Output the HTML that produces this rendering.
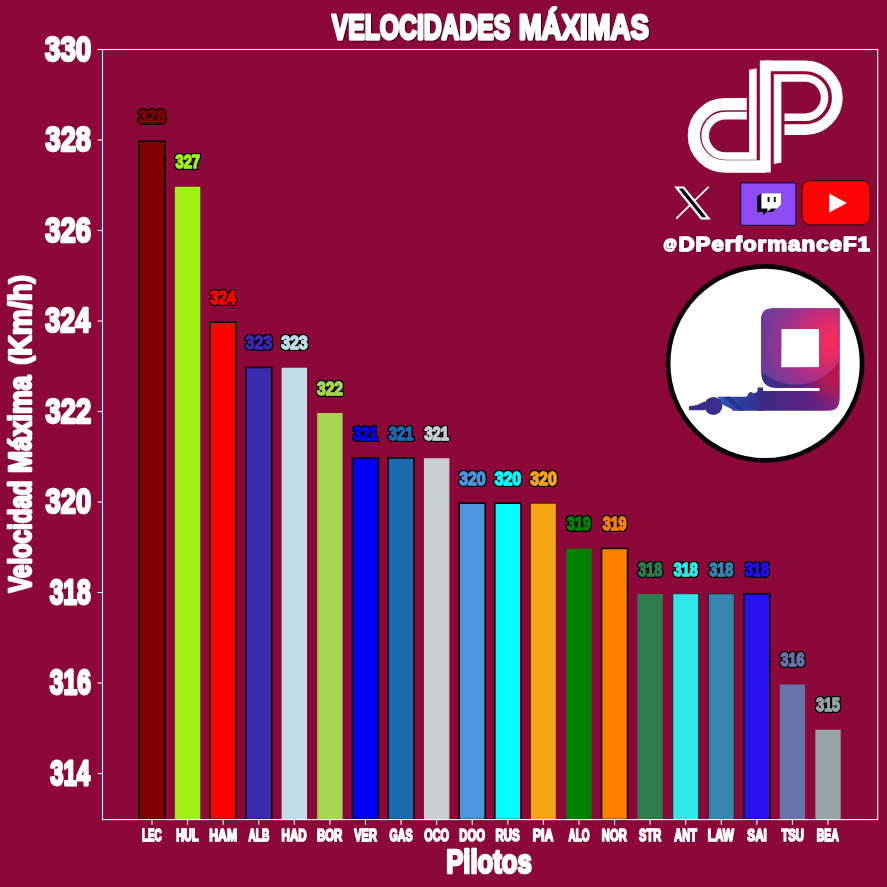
<!DOCTYPE html>
<html lang="es"><head><meta charset="utf-8"><title>Velocidades Máximas</title>
<style>html,body{margin:0;padding:0;background:#8b0838;}body{width:887px;height:887px;overflow:hidden;}svg{display:block;}text{font-family:'Liberation Sans', sans-serif;font-weight:bold;stroke-linejoin:round;vector-effect:non-scaling-stroke;}</style></head><body>
<svg width="887" height="887" viewBox="0 0 887 887">
<defs>
<filter id="ol" x="-5%" y="-5%" width="110%" height="110%" filterUnits="objectBoundingBox">
<feOffset in="SourceAlpha" dx="-1" dy="0" result="o0"/>
<feOffset in="SourceAlpha" dx="1" dy="0" result="o1"/>
<feOffset in="SourceAlpha" dx="0" dy="-1" result="o2"/>
<feOffset in="SourceAlpha" dx="0" dy="1" result="o3"/>
<feOffset in="SourceAlpha" dx="-0.8" dy="-0.8" result="o4"/>
<feOffset in="SourceAlpha" dx="0.8" dy="-0.8" result="o5"/>
<feOffset in="SourceAlpha" dx="-0.8" dy="0.8" result="o6"/>
<feOffset in="SourceAlpha" dx="0.8" dy="0.8" result="o7"/>
<feMerge result="m"><feMergeNode in="o0"/><feMergeNode in="o1"/><feMergeNode in="o2"/><feMergeNode in="o3"/><feMergeNode in="o4"/><feMergeNode in="o5"/><feMergeNode in="o6"/><feMergeNode in="o7"/></feMerge>
<feColorMatrix in="m" type="matrix" values="0 0 0 0 0  0 0 0 0 0  0 0 0 0 0  0 0 0 1.6 0" result="blk"/>
<feMerge><feMergeNode in="blk"/><feMergeNode in="SourceGraphic"/></feMerge>
</filter>
<filter id="ol2" x="-5%" y="-20%" width="110%" height="140%">
<feOffset in="SourceAlpha" dx="-0.8" dy="0.0" result="o0"/>
<feOffset in="SourceAlpha" dx="0.8" dy="0.0" result="o1"/>
<feOffset in="SourceAlpha" dx="0.0" dy="-0.8" result="o2"/>
<feOffset in="SourceAlpha" dx="0.0" dy="0.8" result="o3"/>
<feOffset in="SourceAlpha" dx="-0.6400000000000001" dy="-0.6400000000000001" result="o4"/>
<feOffset in="SourceAlpha" dx="0.6400000000000001" dy="-0.6400000000000001" result="o5"/>
<feOffset in="SourceAlpha" dx="-0.6400000000000001" dy="0.6400000000000001" result="o6"/>
<feOffset in="SourceAlpha" dx="0.6400000000000001" dy="0.6400000000000001" result="o7"/>
<feMerge result="m"><feMergeNode in="o0"/><feMergeNode in="o1"/><feMergeNode in="o2"/><feMergeNode in="o3"/><feMergeNode in="o4"/><feMergeNode in="o5"/><feMergeNode in="o6"/><feMergeNode in="o7"/></feMerge>
<feColorMatrix in="m" type="matrix" values="0 0 0 0 0.18  0 0 0 0 0  0 0 0 0 0.06  0 0 0 0.75 0" result="blk"/>
<feMerge><feMergeNode in="blk"/><feMergeNode in="SourceGraphic"/></feMerge>
</filter>
<filter id="sh" x="-5%" y="-20%" width="110%" height="140%">
<feOffset in="SourceAlpha" dx="1.1" dy="0.8" result="s"/>
<feColorMatrix in="s" type="matrix" values="0 0 0 0 0  0 0 0 0 0  0 0 0 0 0  0 0 0 0.7 0" result="sb"/>
<feMerge><feMergeNode in="sb"/><feMergeNode in="SourceGraphic"/></feMerge>
</filter>
</defs>
<rect width="887" height="887" fill="#8b0838"/>
<g id="bars">
<rect x="139.00" y="141.20" width="26.00" height="678.40" fill="#800000" stroke="#0c0006" stroke-width="1.6"/>
<rect x="174.88" y="186.75" width="25.40" height="632.85" fill="#9ff014"/>
<rect x="210.16" y="322.20" width="26.00" height="497.40" fill="#ff0000" stroke="#0c0006" stroke-width="1.6"/>
<rect x="245.74" y="367.45" width="26.00" height="452.15" fill="#3b2aae" stroke="#0c0006" stroke-width="1.6"/>
<rect x="281.62" y="367.75" width="25.40" height="451.85" fill="#c0dde8"/>
<rect x="317.20" y="413.00" width="25.40" height="406.60" fill="#a5d64f"/>
<rect x="352.48" y="457.95" width="26.00" height="361.65" fill="#0000f5" stroke="#0c0006" stroke-width="1.6"/>
<rect x="388.06" y="457.95" width="26.00" height="361.65" fill="#1c6bb0" stroke="#0c0006" stroke-width="1.6"/>
<rect x="423.94" y="458.25" width="25.40" height="361.35" fill="#c8d0d0"/>
<rect x="459.22" y="503.20" width="26.00" height="316.40" fill="#4b96dc" stroke="#0c0006" stroke-width="1.6"/>
<rect x="494.80" y="503.20" width="26.00" height="316.40" fill="#00ffff" stroke="#0c0006" stroke-width="1.6"/>
<rect x="530.53" y="503.30" width="25.70" height="316.30" fill="#f5a614" stroke="#0c0006" stroke-opacity="0.55" stroke-width="1"/>
<rect x="566.26" y="548.75" width="25.40" height="270.85" fill="#008000"/>
<rect x="601.54" y="548.45" width="26.00" height="271.15" fill="#ff8000" stroke="#0c0006" stroke-width="1.6"/>
<rect x="637.42" y="594.00" width="25.40" height="225.60" fill="#2e7d4f"/>
<rect x="672.85" y="593.80" width="25.70" height="225.80" fill="#30e8e8" stroke="#0c0006" stroke-opacity="0.55" stroke-width="1"/>
<rect x="708.43" y="593.80" width="25.70" height="225.80" fill="#3585b0" stroke="#0c0006" stroke-opacity="0.55" stroke-width="1"/>
<rect x="743.86" y="593.70" width="26.00" height="225.90" fill="#2810f0" stroke="#0c0006" stroke-width="1.6"/>
<rect x="779.74" y="684.50" width="25.40" height="135.10" fill="#6674a8"/>
<rect x="815.32" y="729.75" width="25.40" height="89.85" fill="#96a5a5"/>
</g>
<rect x="102.50" y="49.50" width="775.20" height="770.10" fill="none" stroke="#fff" stroke-width="1.1"/>
<g stroke="#fff" stroke-width="1.1">
<line x1="97.60" x2="102.50" y1="773.50" y2="773.50"/>
<line x1="97.60" x2="102.50" y1="683.00" y2="683.00"/>
<line x1="97.60" x2="102.50" y1="592.50" y2="592.50"/>
<line x1="97.60" x2="102.50" y1="502.00" y2="502.00"/>
<line x1="97.60" x2="102.50" y1="411.50" y2="411.50"/>
<line x1="97.60" x2="102.50" y1="321.00" y2="321.00"/>
<line x1="97.60" x2="102.50" y1="230.50" y2="230.50"/>
<line x1="97.60" x2="102.50" y1="140.00" y2="140.00"/>
<line x1="97.60" x2="102.50" y1="49.50" y2="49.50"/>
<line x1="152.00" x2="152.00" y1="819.60" y2="824.80"/>
<line x1="187.58" x2="187.58" y1="819.60" y2="824.80"/>
<line x1="223.16" x2="223.16" y1="819.60" y2="824.80"/>
<line x1="258.74" x2="258.74" y1="819.60" y2="824.80"/>
<line x1="294.32" x2="294.32" y1="819.60" y2="824.80"/>
<line x1="329.90" x2="329.90" y1="819.60" y2="824.80"/>
<line x1="365.48" x2="365.48" y1="819.60" y2="824.80"/>
<line x1="401.06" x2="401.06" y1="819.60" y2="824.80"/>
<line x1="436.64" x2="436.64" y1="819.60" y2="824.80"/>
<line x1="472.22" x2="472.22" y1="819.60" y2="824.80"/>
<line x1="507.80" x2="507.80" y1="819.60" y2="824.80"/>
<line x1="543.38" x2="543.38" y1="819.60" y2="824.80"/>
<line x1="578.96" x2="578.96" y1="819.60" y2="824.80"/>
<line x1="614.54" x2="614.54" y1="819.60" y2="824.80"/>
<line x1="650.12" x2="650.12" y1="819.60" y2="824.80"/>
<line x1="685.70" x2="685.70" y1="819.60" y2="824.80"/>
<line x1="721.28" x2="721.28" y1="819.60" y2="824.80"/>
<line x1="756.86" x2="756.86" y1="819.60" y2="824.80"/>
<line x1="792.44" x2="792.44" y1="819.60" y2="824.80"/>
<line x1="828.02" x2="828.02" y1="819.60" y2="824.80"/>
</g>
<g id="yticks" font-size="34.5" fill="#fff" stroke="#fff" stroke-width="2.4" text-anchor="end">
<text transform="translate(90.13 784.80) scale(0.692 1)">314</text>
<text transform="translate(90.88 694.30) scale(0.716 1)">316</text>
<text transform="translate(90.75 603.80) scale(0.714 1)">318</text>
<text transform="translate(91.10 513.30) scale(0.791 1)">320</text>
<text transform="translate(91.08 422.80) scale(0.790 1)">322</text>
<text transform="translate(90.15 332.30) scale(0.781 1)">324</text>
<text transform="translate(90.97 241.80) scale(0.793 1)">326</text>
<text transform="translate(90.83 151.30) scale(0.786 1)">328</text>
<text transform="translate(91.12 60.80) scale(0.801 1)">330</text>
</g>
<g id="xticks">
<text transform="translate(151.81 841.40) scale(0.609 1)" text-anchor="middle" font-size="16.20" fill="#fff" stroke="#fff" stroke-width="1.50">LEC</text>
<text transform="translate(187.39 841.40) scale(0.668 1)" text-anchor="middle" font-size="16.20" fill="#fff" stroke="#fff" stroke-width="1.50">HUL</text>
<text transform="translate(223.16 841.40) scale(0.754 1)" text-anchor="middle" font-size="16.20" fill="#fff" stroke="#fff" stroke-width="1.50">HAM</text>
<text transform="translate(258.85 841.40) scale(0.625 1)" text-anchor="middle" font-size="16.20" fill="#fff" stroke="#fff" stroke-width="1.50">ALB</text>
<text transform="translate(294.18 841.40) scale(0.717 1)" text-anchor="middle" font-size="16.20" fill="#fff" stroke="#fff" stroke-width="1.50">HAD</text>
<text transform="translate(329.64 841.40) scale(0.708 1)" text-anchor="middle" font-size="16.20" fill="#fff" stroke="#fff" stroke-width="1.50">BOR</text>
<text transform="translate(365.56 841.40) scale(0.684 1)" text-anchor="middle" font-size="16.20" fill="#fff" stroke="#fff" stroke-width="1.50">VER</text>
<text transform="translate(401.05 841.40) scale(0.657 1)" text-anchor="middle" font-size="16.20" fill="#fff" stroke="#fff" stroke-width="1.50">GAS</text>
<text transform="translate(436.64 841.40) scale(0.675 1)" text-anchor="middle" font-size="16.20" fill="#fff" stroke="#fff" stroke-width="1.50">OCO</text>
<text transform="translate(472.08 841.40) scale(0.697 1)" text-anchor="middle" font-size="16.20" fill="#fff" stroke="#fff" stroke-width="1.50">DOO</text>
<text transform="translate(507.65 841.40) scale(0.711 1)" text-anchor="middle" font-size="16.20" fill="#fff" stroke="#fff" stroke-width="1.50">RUS</text>
<text transform="translate(543.13 841.40) scale(0.764 1)" text-anchor="middle" font-size="16.20" fill="#fff" stroke="#fff" stroke-width="1.50">PIA</text>
<text transform="translate(579.05 841.40) scale(0.619 1)" text-anchor="middle" font-size="16.20" fill="#fff" stroke="#fff" stroke-width="1.50">ALO</text>
<text transform="translate(614.28 841.40) scale(0.691 1)" text-anchor="middle" font-size="16.20" fill="#fff" stroke="#fff" stroke-width="1.50">NOR</text>
<text transform="translate(650.08 841.40) scale(0.680 1)" text-anchor="middle" font-size="16.20" fill="#fff" stroke="#fff" stroke-width="1.50">STR</text>
<text transform="translate(685.62 841.40) scale(0.678 1)" text-anchor="middle" font-size="16.20" fill="#fff" stroke="#fff" stroke-width="1.50">ANT</text>
<text transform="translate(720.89 841.40) scale(0.730 1)" text-anchor="middle" font-size="16.20" fill="#fff" stroke="#fff" stroke-width="1.50">LAW</text>
<text transform="translate(757.09 841.40) scale(0.726 1)" text-anchor="middle" font-size="16.20" fill="#fff" stroke="#fff" stroke-width="1.50">SAI</text>
<text transform="translate(792.72 841.40) scale(0.694 1)" text-anchor="middle" font-size="16.20" fill="#fff" stroke="#fff" stroke-width="1.50">TSU</text>
<text transform="translate(827.81 841.40) scale(0.651 1)" text-anchor="middle" font-size="16.20" fill="#fff" stroke="#fff" stroke-width="1.50">BEA</text>
</g>
<g id="vals" filter="url(#ol)">
<text transform="translate(152.07 123.00) scale(0.866 1)" text-anchor="middle" font-size="18.80" fill="#800000" stroke="#800000" stroke-width="1.20">328</text>
<text transform="translate(187.74 168.25) scale(0.776 1)" text-anchor="middle" font-size="18.80" fill="#9ff014" stroke="#9ff014" stroke-width="1.20">327</text>
<text transform="translate(223.03 304.00) scale(0.810 1)" text-anchor="middle" font-size="18.80" fill="#ff0000" stroke="#ff0000" stroke-width="1.20">324</text>
<text transform="translate(258.85 349.25) scale(0.849 1)" text-anchor="middle" font-size="18.80" fill="#3b2aae" stroke="#3b2aae" stroke-width="1.20">323</text>
<text transform="translate(294.43 349.25) scale(0.849 1)" text-anchor="middle" font-size="18.80" fill="#c0dde8" stroke="#c0dde8" stroke-width="1.20">323</text>
<text transform="translate(330.04 394.50) scale(0.827 1)" text-anchor="middle" font-size="18.80" fill="#a5d64f" stroke="#a5d64f" stroke-width="1.20">322</text>
<text transform="translate(365.52 439.75) scale(0.782 1)" text-anchor="middle" font-size="18.80" fill="#0000f5" stroke="#0000f5" stroke-width="1.20">321</text>
<text transform="translate(401.10 439.75) scale(0.782 1)" text-anchor="middle" font-size="18.80" fill="#1c6bb0" stroke="#1c6bb0" stroke-width="1.20">321</text>
<text transform="translate(436.68 439.75) scale(0.782 1)" text-anchor="middle" font-size="18.80" fill="#c8d0d0" stroke="#c8d0d0" stroke-width="1.20">321</text>
<text transform="translate(472.37 485.00) scale(0.845 1)" text-anchor="middle" font-size="18.80" fill="#4b96dc" stroke="#4b96dc" stroke-width="1.20">320</text>
<text transform="translate(507.95 485.00) scale(0.845 1)" text-anchor="middle" font-size="18.80" fill="#00ffff" stroke="#00ffff" stroke-width="1.20">320</text>
<text transform="translate(543.53 485.00) scale(0.845 1)" text-anchor="middle" font-size="18.80" fill="#f5a614" stroke="#f5a614" stroke-width="1.20">320</text>
<text transform="translate(579.06 530.25) scale(0.763 1)" text-anchor="middle" font-size="18.80" fill="#008000" stroke="#008000" stroke-width="1.20">319</text>
<text transform="translate(614.64 530.25) scale(0.763 1)" text-anchor="middle" font-size="18.80" fill="#ff8000" stroke="#ff8000" stroke-width="1.20">319</text>
<text transform="translate(650.18 575.50) scale(0.767 1)" text-anchor="middle" font-size="18.80" fill="#2e7d4f" stroke="#2e7d4f" stroke-width="1.20">318</text>
<text transform="translate(685.76 575.50) scale(0.767 1)" text-anchor="middle" font-size="18.80" fill="#30e8e8" stroke="#30e8e8" stroke-width="1.20">318</text>
<text transform="translate(721.34 575.50) scale(0.767 1)" text-anchor="middle" font-size="18.80" fill="#3585b0" stroke="#3585b0" stroke-width="1.20">318</text>
<text transform="translate(756.92 575.50) scale(0.767 1)" text-anchor="middle" font-size="18.80" fill="#2810f0" stroke="#2810f0" stroke-width="1.20">318</text>
<text transform="translate(792.54 666.00) scale(0.763 1)" text-anchor="middle" font-size="18.80" fill="#6674a8" stroke="#6674a8" stroke-width="1.20">316</text>
<text transform="translate(828.06 711.25) scale(0.749 1)" text-anchor="middle" font-size="18.80" fill="#96a5a5" stroke="#96a5a5" stroke-width="1.20">315</text>
</g>
<g filter="url(#sh)">
<text transform="translate(331.80 39.0) scale(0.698 1)" font-size="35.4" fill="#fff" stroke="#fff" stroke-width="2.5">VELOCIDADES</text>
<text transform="translate(518.63 39.0) scale(0.779 1)" font-size="35.4" fill="#fff" stroke="#fff" stroke-width="2.5">MÁXIMAS</text>
</g>
<text transform="translate(446.20 872.8) scale(0.788 1)" font-size="32.6" fill="#fff" stroke="#fff" stroke-width="2.4">Pilotos</text>
<g font-size="31.5" fill="#fff" stroke="#fff" stroke-width="2.3">
<text transform="translate(31.4 592.59) rotate(-90) scale(0.762 1)">Velocidad</text>
<text transform="translate(31.4 472.90) rotate(-90) scale(0.841 1)">Máxima</text>
<text transform="translate(31.4 364.40) rotate(-90) scale(0.922 1)"><tspan font-size="27" dy="-2.4">(</tspan><tspan dy="2.4">Km/h</tspan><tspan font-size="27" dy="-2.4">)</tspan></text>
</g>
<g id="dp" fill="none" stroke="#fff" stroke-linejoin="miter" stroke-linecap="butt">
<path d="M765.3 60.6 V172.6" stroke-width="10.9"/>
<path d="M765.3 65.9 H805.5 A31.85 31.85 0 0 1 805.5 129.6 H784.5" stroke-width="10.8"/>
<path d="M773.8 162 V164 L781.4 162.4 V162 Z" fill="#fff" stroke="none"/>
<path d="M749.1 70.4 V69.8 L756.7 68.2 V70.4 Z" fill="#fff" stroke="none"/>
<path d="M777.6 162.2 V78 H805 A19.6 19.6 0 0 1 805 117.2 H784.5" stroke-width="7.6"/>
<path d="M765.3 166.5 H725 A31.15 31.15 0 0 1 725 104.2 H746.8" stroke-width="12.3"/>
<path d="M752.9 70.2 V156 H725.4 A20.2 20.2 0 0 1 725.4 115.6 H746.8" stroke-width="7.6"/>
</g>
<g id="xicon">
<path d="M708.6 186.9 L676.2 218.7" stroke="#fff" stroke-width="1.8" fill="none"/>
<path d="M676.4 187.5 H683.6 L708.6 218.3 H701.4 Z" fill="#0c040a" stroke="#fff" stroke-width="2.2" stroke-linejoin="miter"/>
</g>
<g id="twitch">
<rect x="740.6" y="182.8" width="55.4" height="42.6" fill="#8d4bf6" stroke="#1a0a3a" stroke-width="1.2"/>
<path d="M761.4 193.2 L757.0 196.6 L757.0 212.0 L763.0 212.0 L763.0 215.2 L766.8 212.0 L772.6 212.0 L776.6 207.8 L781.0 204.4 L781.0 193.2 Z" fill="#0a0410"/>
<path d="M761.4 193.2 L781.0 193.2 L781.0 204.4 L777.0 208.6 L771.2 208.6 L767.4 211.8 L767.4 208.6 L761.4 208.6 Z" fill="#fff"/>
<rect x="767.6" y="197" width="1.9" height="5" fill="#0a0410"/><rect x="773.8" y="197" width="1.9" height="5" fill="#0a0410"/>
</g>
<g id="yt">
<rect x="802.2" y="180.6" width="68" height="44.2" rx="8" ry="8" fill="#fe0505" stroke="#3a0410" stroke-width="1.2"/>
<path d="M829.3 193.6 L846.9 203.1 L829.3 212.6 Z" fill="#fff"/>
</g>
<g filter="url(#ol2)">
<text transform="translate(663.52 249.1) scale(0.986 1)" font-size="13.8" fill="#fff" stroke="#fff" stroke-width="1.2">@</text>
<text transform="translate(678.48 250.9) scale(1.081 1)" font-size="20.6" letter-spacing="0.95" fill="#fff" stroke="#fff" stroke-width="1.5">DPerformanceF1</text>
</g>
<defs>
<linearGradient id="gbase" gradientUnits="userSpaceOnUse" x1="688" y1="0" x2="840" y2="0"><stop offset="0" stop-color="#2b41a6"/><stop offset="0.22" stop-color="#2f3898"/><stop offset="0.49" stop-color="#3a2c88"/><stop offset="0.8" stop-color="#5a2080"/><stop offset="1" stop-color="#8c2486"/></linearGradient>
<radialGradient id="gcrim" gradientUnits="userSpaceOnUse" cx="834" cy="376" r="34"><stop offset="0" stop-color="#c01848"/><stop offset="0.5" stop-color="#a81a54" stop-opacity="0.8"/><stop offset="1" stop-color="#70207a" stop-opacity="0"/></radialGradient>
<radialGradient id="ghot" gradientUnits="userSpaceOnUse" cx="830" cy="342" r="72"><stop offset="0" stop-color="#f82c5e"/><stop offset="0.25" stop-color="#e02a66"/><stop offset="0.6" stop-color="#a2328c"/><stop offset="1" stop-color="#683c9e"/></radialGradient>
<linearGradient id="gtop" gradientUnits="userSpaceOnUse" x1="760" y1="0" x2="840" y2="0"><stop offset="0" stop-color="#7c3a9a"/><stop offset="1" stop-color="#b82c78"/></linearGradient>
<linearGradient id="gcar" gradientUnits="userSpaceOnUse" x1="720" y1="0" x2="763" y2="0"><stop offset="0" stop-color="#2a54b8"/><stop offset="0.5" stop-color="#2c3ea0"/><stop offset="1" stop-color="#3a2c88"/></linearGradient>
<clipPath id="gclip"><path clip-rule="evenodd" d="M772.4 308.6 H839.5 V399.5 Q839.5 410.8 828 410.8 H757 V391 H819.6 V388 H777 Q761.2 388 761.2 372 V320 Q761.2 308.6 772.4 308.6 Z M781.2 329.1 V367.6 H819.4 V329.1 Z"/></clipPath>
</defs>
<g id="glogo">
<circle cx="765.1" cy="363.4" r="97" fill="#fff" stroke="#08040a" stroke-width="4.7"/>
<path d="M688.9 406.2 L697.2 404.9 L705.2 401.2 V410.2 H688.9 Z" fill="#3a2e8c"/>
<path d="M717.5 396.8 H746.3 L747.8 395 A3 3 0 0 1 753.4 393.6 L755.2 392.8 L757.6 392 V387.6 H763 V410.7 H731.7 L732.6 409.4 L722.4 404.4 Z" fill="url(#gcar)"/>
<path d="M724 396.8 H730 L745 410.7 H739 Z" fill="#22308e" opacity="0.8"/>
<circle cx="713.4" cy="405.9" r="9" fill="#3a2e8c"/>
<g clip-path="url(#gclip)">
<rect x="755" y="305" width="90" height="110" fill="url(#gbase)"/>
<rect x="755" y="305" width="90" height="42" fill="url(#gtop)"/>
<rect x="790" y="340" width="55" height="75" fill="url(#gcrim)"/>
<circle cx="795.8" cy="332.6" r="52" fill="url(#ghot)"/>
</g>
</g>
</g>
</svg></body></html>
